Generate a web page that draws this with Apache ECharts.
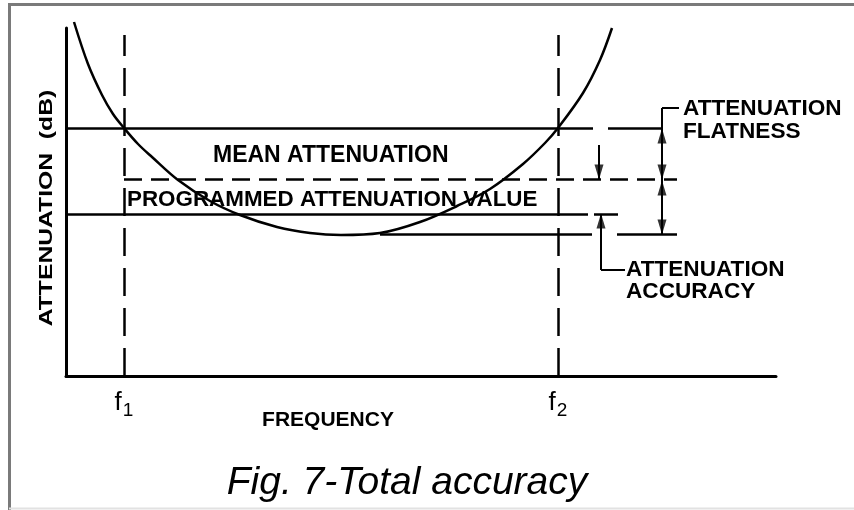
<!DOCTYPE html>
<html>
<head>
<meta charset="utf-8">
<script src="https://cdn.jsdelivr.net/npm/echarts@6/dist/echarts.min.js"></script>
<style>
  html, body { margin: 0; padding: 0; background: #fff; }
  #chart { width: 854px; height: 510px; }
</style>
</head>
<body>
<div id="chart"></div>
<script>
// attenuation vs frequency (arbitrary units)
const curveX = [8, 22, 36, 47, 58, 72, 86, 112, 144, 174, 211, 244, 275, 314, 354, 391, 424, 457, 479, 492, 517, 534, 546];
const curveY = [354, 312, 281, 262, 248, 232, 219, 196, 175, 161, 149, 143, 141, 143, 154, 170, 187, 212, 233, 248, 283, 316, 348];

// band edges f1, f2
const freqMarks = [58, 492];
const freqSubs = ['1', '2'];
const freqTop = 341;

// levels: max in band, mean, programmed value, min in band
const levelNames = ['max', 'mean', 'programmed', 'min'];
const levelValues = [248, 197, 162, 142];

// solid level lines: [x start, x end, level index]
const solidSegs = [[0, 527, 0], [542, 596, 0], [0, 522, 2], [528, 552, 2], [314, 526, 3], [551, 611, 3]];
// dashed level lines
const dashSegs = [[58, 611, 1]];

// arrow shafts and leader lines: [x1, y1, x2, y2]
const shafts = [[533, 231, 533, 197], [535, 106, 535, 162], [535, 106, 559, 106], [596, 268, 596, 142], [596, 268, 613, 268]];
// arrow tips
const tipsUp = [[535, 162], [596, 247], [596, 195]];
const tipsDown = [[533, 197], [596, 197], [596, 142]];

const black = '#000';
const font = '"Liberation Sans", Arial, sans-serif';

function txt(text, x, y, size, opts) {
  opts = opts || {};
  return {
    type: 'text',
    x: x,
    y: y,
    rotation: opts.rotation || 0,
    scaleX: opts.scaleX || 1,
    style: {
      text: text,
      font: (opts.style || 'bold') + ' ' + size + 'px ' + font,
      fill: black,
      textAlign: opts.align || 'left',
      textVerticalAlign: 'middle'
    }
  };
}

const chart = echarts.init(document.getElementById('chart'));

let option = {
  animation: false,
  backgroundColor: '#fff',
  grid: { left: 66, right: 78, top: 28, bottom: 134, outerBoundsMode: 'none' },
  xAxis: {
    type: 'value',
    min: 0,
    max: 710,
    axisLine: { show: true, onZero: false, lineStyle: { color: black, width: 3 } },
    axisTick: { show: false },
    splitLine: { show: false },
    axisLabel: {
      customValues: freqMarks,
      margin: 14,
      formatter: function (v) {
        return '{f|f}{s|' + freqSubs[freqMarks.indexOf(v)] + '}';
      },
      rich: {
        f: { fontSize: 26, fontFamily: font, color: black, padding: [0, 1, 4, 0], verticalAlign: 'bottom' },
        s: { fontSize: 19, fontFamily: font, color: black, verticalAlign: 'bottom' }
      }
    }
  },
  yAxis: {
    type: 'value',
    min: 0,
    max: 348,
    axisLine: { show: true, onZero: false, lineStyle: { color: black, width: 3 } },
    axisTick: { show: false },
    axisLabel: { show: false },
    splitLine: { show: false }
  },
  series: [
    {
      type: 'line',
      data: curveX.map((x, i) => [x, curveY[i]]),
      smooth: 0.35,
      symbol: 'none',
      clip: false,
      lineStyle: { color: black, width: 2.5 }
    },
    {
      type: 'lines',
      coordinateSystem: 'cartesian2d',
      data: solidSegs.map(s => ({ coords: [[s[0], levelValues[s[2]]], [s[1], levelValues[s[2]]]] })),
      lineStyle: { color: black, width: 2.5, opacity: 1 }
    },
    {
      type: 'lines',
      coordinateSystem: 'cartesian2d',
      data: dashSegs.map(s => ({ coords: [[s[0], levelValues[s[2]]], [s[1], levelValues[s[2]]]] })),
      lineStyle: { color: black, width: 2.5, opacity: 1, type: [18, 9] }
    },
    {
      type: 'lines',
      coordinateSystem: 'cartesian2d',
      data: freqMarks.map(f => ({ coords: [[f, 0], [f, freqTop]] })),
      lineStyle: { color: black, width: 2.5, opacity: 1, type: [28, 12] }
    },
    {
      type: 'lines',
      coordinateSystem: 'cartesian2d',
      data: shafts.map(s => ({ coords: [[s[0], s[1]], [s[2], s[3]]] })),
      lineStyle: { color: black, width: 2, opacity: 1 }
    },
    {
      type: 'scatter',
      data: tipsUp,
      symbol: 'triangle',
      symbolSize: [9, 15],
      symbolOffset: [0, 7],
      itemStyle: { color: black }
    },
    {
      type: 'scatter',
      data: tipsDown,
      symbol: 'triangle',
      symbolSize: [9, 15],
      symbolRotate: 180,
      symbolOffset: [0, -7],
      itemStyle: { color: black }
    }
  ],
  graphic: [
    { type: 'polyline', shape: { points: [[9.5, 510], [9.5, 4.5], [854, 4.5]] }, style: { stroke: '#7a7a7a', lineWidth: 3, fill: null } },
    { type: 'line', shape: { x1: 9, y1: 508.5, x2: 854, y2: 508.5 }, style: { stroke: '#e2e2e2', lineWidth: 2 } },
    txt('ATTENUATION  (dB)', 47, 208, 19, { rotation: Math.PI / 2, scaleX: 1.3, align: 'center' }),
    txt('MEAN ATTENUATION', 213, 156, 23),
    txt('PROGRAMMED ATTENUATION VALUE', 127, 200, 22.4),
    txt('ATTENUATION', 683, 109, 22.6),
    txt('FLATNESS', 683, 132, 22.6),
    txt('ATTENUATION', 626, 270, 22.6),
    txt('ACCURACY', 626, 292, 22.6),
    txt('FREQUENCY', 328, 420, 21, { align: 'center' }),
    txt('Fig. 7-Total accuracy', 407, 483, 39, { style: 'italic', align: 'center' })
  ]
};

chart.setOption(option);
</script>
</body>
</html>
